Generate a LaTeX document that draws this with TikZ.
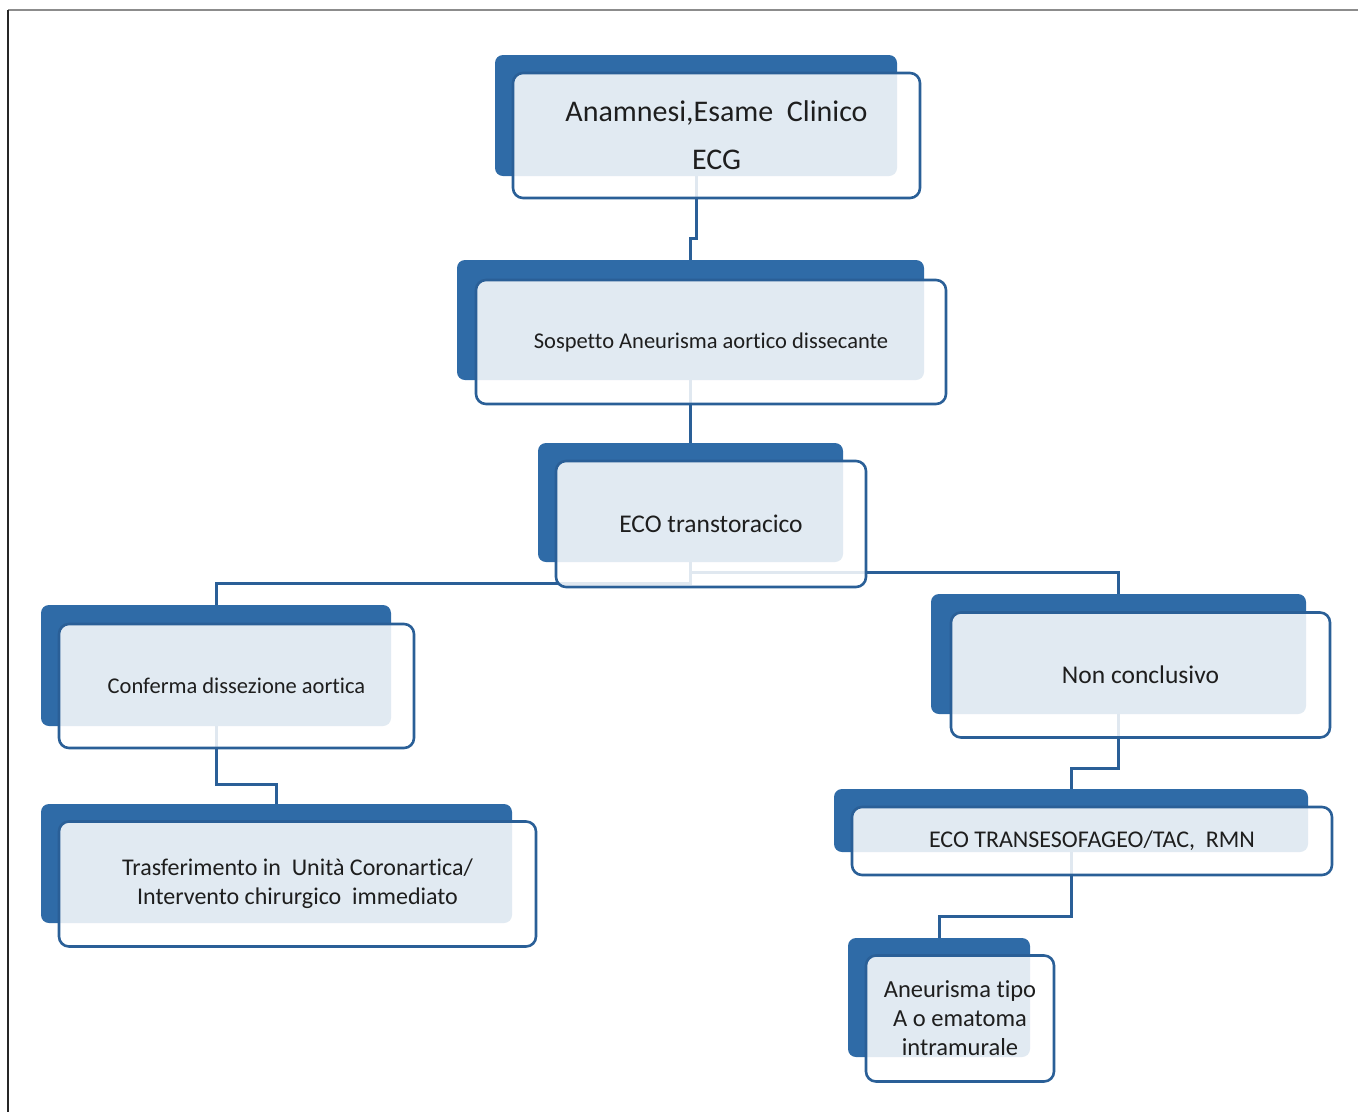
\documentclass[tikz,border=0pt]{standalone}
\usepackage{fontspec}
\setmainfont{Carlito}[Ligatures=NoCommon]
\definecolor{dblue}{HTML}{2F6BA7}
\definecolor{bord}{HTML}{2A5F97}
\definecolor{txt}{HTML}{1E1E1E}
\begin{document}
\begin{tikzpicture}[x=1pt,y=-1pt,
  back/.style={fill=dblue, rounded corners=8pt, inner sep=0pt, draw=none},
  front/.style={draw=bord, line width=2.6pt, fill=white, fill opacity=0.86, text opacity=1,
    rounded corners=10pt, inner sep=0pt, align=center, text=txt},
  conn/.style={draw=bord, line width=3pt},
  frameline/.style={line width=1.8pt}]
\useasboundingbox (0,0) rectangle (1358,1112);
% frame
\draw[frameline, draw=gray!90] (8,10) -- (1358,10);
\draw[frameline, draw=black!85] (8,10) -- (8,1112);
% back shapes
\node[back, minimum width=402pt, minimum height=121pt] (b1) at (696,115.5) {};
\node[back, minimum width=467pt, minimum height=120pt] (b2) at (690.5,320) {};
\node[back, minimum width=305pt, minimum height=119pt] (b3) at (690.5,502.5) {};
\node[back, minimum width=350pt, minimum height=121pt] (b4) at (216,665.5) {};
\node[back, minimum width=471pt, minimum height=119pt] (b5) at (276.5,863.5) {};
\node[back, minimum width=375pt, minimum height=120pt] (b6) at (1118.5,654) {};
\node[back, minimum width=474pt, minimum height=63pt] (b7) at (1071,820.5) {};
\node[back, minimum width=182pt, minimum height=119pt] (b8) at (939,997.5) {};
% junction levels
\coordinate (j1) at (0,238);
\coordinate (j3) at (0,583);
\coordinate (j4) at (0,572);
\coordinate (j5) at (0,784);
\coordinate (j6) at (0,768);
\coordinate (j7) at (0,916);
% connectors
\draw[conn] (b1.south) -- (b1.south |- j1) -| (b2.north);
\draw[conn] (b2.south) -- (b3.north);
\draw[conn] (b3.south) -- (b3.south |- j3) -| (b4.north);
\draw[conn] (b3.south) -- (b3.south |- j4) -| (b6.north);
\draw[conn] (b4.south) -- (b4.south |- j5) -| (b5.north);
\draw[conn] (b6.south) -- (b6.south |- j6) -| (b7.north);
\draw[conn] (b7.south) -- (b7.south |- j7) -| (b8.north);
% front boxes with text
\node[front, minimum width=407pt, minimum height=125pt, font=\fontsize{30}{48}\selectfont] (f1) at (716.5,135.5) {Anamnesi,Esame\ \ Clinico\\ECG};
\node[front, minimum width=470pt, minimum height=124pt, font=\fontsize{22.5}{27}\selectfont] (f2) at (711,342) {Sospetto Aneurisma aortico dissecante};
\node[front, minimum width=310pt, minimum height=126pt, font=\fontsize{25.5}{30}\selectfont] (f3) at (711,524) {ECO transtoracico};
\node[front, minimum width=355pt, minimum height=124pt, font=\fontsize{22.5}{27}\selectfont] (f4) at (236.5,686) {Conferma dissezione aortica};
\node[front, minimum width=477pt, minimum height=125pt, font=\fontsize{24}{29}\selectfont] (f5) at (297.5,884) {Trasferimento in\ \ Unità Coronartica/\\Intervento chirurgico\ \ immediato};
\node[front, minimum width=379pt, minimum height=125pt, font=\fontsize{25.5}{30}\selectfont] (f6) at (1140.5,675) {Non conclusivo};
\node[front, minimum width=480pt, minimum height=68pt, font=\fontsize{24}{29}\selectfont] (f7) at (1092,841) {ECO TRANSESOFAGEO/TAC,\ \ RMN};
\node[front, minimum width=188pt, minimum height=126pt, font=\fontsize{24.5}{29}\selectfont] (f8) at (960,1018.5) {Aneurisma tipo\\A o ematoma\\intramurale};
\end{tikzpicture}
\end{document}
